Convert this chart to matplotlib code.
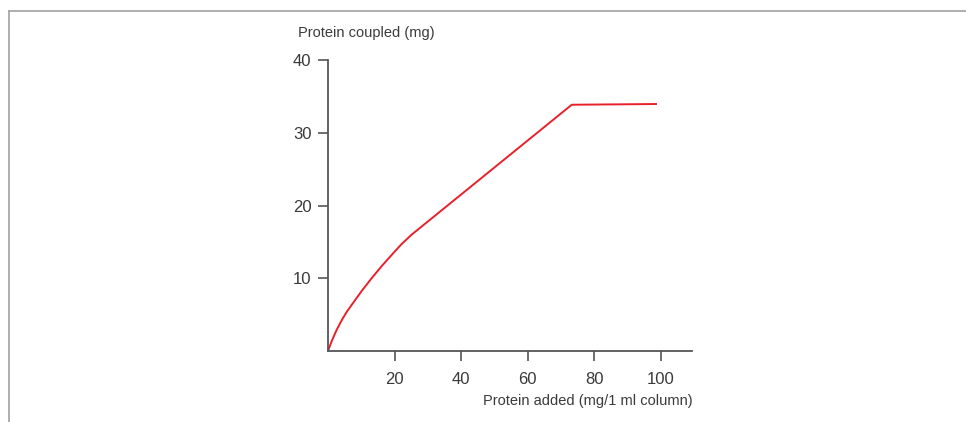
import matplotlib
matplotlib.use("Agg")
import matplotlib.pyplot as plt

protein_added = [0, 1.2, 2.6, 4.2, 5.8, 7.6, 10.2, 13.1, 16.0, 19.6, 22.0, 25.0, 73.2, 98.5]
protein_coupled = [0, 1.45, 2.9, 4.3, 5.5, 6.65, 8.3, 10.0, 11.6, 13.45, 14.65, 15.95, 33.85, 33.95]
x_ticks = [20, 40, 60, 80, 100]
y_ticks = [10, 20, 30, 40]

plt.rcParams['font.family'] = ['Liberation Sans', 'DejaVu Sans']
text_color = '#3a3a3a'
axis_color = '#555555'

fig = plt.figure(figsize=(9.66, 4.22), dpi=100)
W, H = 966, 422
x0, y0 = 328, 351
px_per_x = 3.33
xmax = (692 - x0) / px_per_x
ax = fig.add_axes([x0 / W, (H - y0) / H, (692 - x0) / W, (y0 - 60) / H])
ax.set_xlim(0, xmax)
ax.set_ylim(0, 40)

ax.plot(protein_added, protein_coupled, color='#e8202a', lw=1.4, solid_joinstyle='round')

for s in ['top', 'right']:
    ax.spines[s].set_visible(False)
for s in ['left', 'bottom']:
    ax.spines[s].set_color(axis_color)
    ax.spines[s].set_linewidth(1.3)

ax.set_xticks(x_ticks)
ax.set_yticks(y_ticks)
ax.set_xticklabels([str(v) for v in x_ticks])
ax.set_yticklabels([str(v) for v in y_ticks])
ax.tick_params(axis='both', colors=axis_color, labelcolor=text_color, labelsize=12,
               length=7, width=1.2, direction='out')
ax.tick_params(axis='x', pad=8)
ax.tick_params(axis='y', pad=5)

fig.text(298 / W, 1 - 33 / H, 'Protein coupled (mg)', ha='left', va='center',
         fontsize=10.5, color=text_color)
fig.text(693 / W, 1 - 401 / H, 'Protein added (mg/1 ml column)', ha='right', va='center',
         fontsize=10.5, color=text_color)

fig.add_artist(plt.Line2D([9 / W, 1], [1 - 11 / H, 1 - 11 / H], color='#a8a8a8', lw=1.3,
                          transform=fig.transFigure))
fig.add_artist(plt.Line2D([9 / W, 9 / W], [0, 1 - 11 / H], color='#a8a8a8', lw=1.3,
                          transform=fig.transFigure))

fig.savefig('out.png', dpi=100)
